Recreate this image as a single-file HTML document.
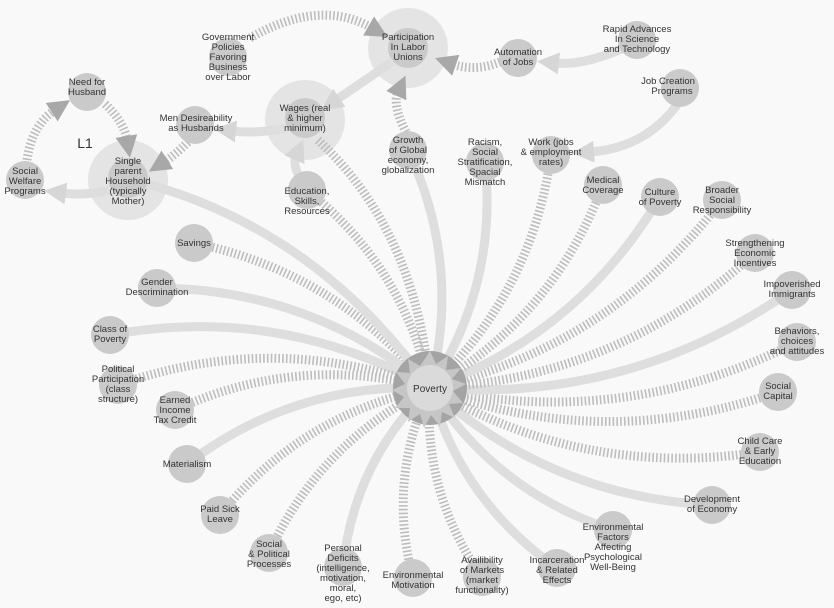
<!DOCTYPE html>
<html><head><meta charset="utf-8"><style>
html,body{margin:0;padding:0;background:#f9f9f9;}
svg{display:block;}
text{font-family:"Liberation Sans",sans-serif;font-size:9.5px;fill:#333;text-anchor:middle;}
.s{fill:none;stroke:#dedede;stroke-width:9;}
.d{fill:none;stroke:#bdbdbd;stroke-width:9;stroke-dasharray:1.6 2.2;}
.n{fill:#cacaca;}
.b{fill:#e4e4e4;}
</style></head><body>
<svg width="834" height="608" viewBox="0 0 834 608" xmlns="http://www.w3.org/2000/svg">
<defs>
<marker id="as" markerUnits="userSpaceOnUse" markerWidth="22" markerHeight="22" refX="4" refY="11" orient="auto"><path d="M0,0 L22,11 L0,22 z" fill="#d6d6d6"/></marker>
<marker id="ad" markerUnits="userSpaceOnUse" markerWidth="22" markerHeight="22" refX="4" refY="11" orient="auto"><path d="M0,0 L22,11 L0,22 z" fill="#a8a8a8"/></marker>
</defs>
<rect width="834" height="608" fill="#f9f9f9"/>
<circle cx="408" cy="48" r="40" class="b"/>
<circle cx="305" cy="120" r="40" class="b"/>
<circle cx="128" cy="180" r="40" class="b"/>

<path class="d" d="M194,243 Q338,273 430,388"/>
<path class="s" d="M157,288 Q312,289 430,388"/>
<path class="s" d="M110,335 Q280,304 430,388"/>
<path class="d" d="M118,385 Q274,330 430,388"/>
<path class="d" d="M175,410 Q298,353 430,388"/>
<path class="s" d="M187,464 Q295,382 430,388"/>
<path class="d" d="M220,515 Q302,414 430,388"/>
<path class="d" d="M269,553 Q320,442 430,388"/>
<path class="s" d="M343,567 Q354,462 430,388"/>
<path class="d" d="M413,578 Q387,480 430,388"/>
<path class="d" d="M482,577 Q422,492 430,388"/>
<path class="s" d="M557,568 Q461,501 430,388"/>
<path class="s" d="M613,530 Q496,492 430,388"/>
<path class="s" d="M712,505 Q550,497 430,388"/>
<path class="d" d="M760,452 Q583,479 430,388"/>
<path class="d" d="M778,392 Q603,453 430,388"/>
<path class="d" d="M797,342 Q622,431 430,388"/>
<path class="s" d="M792,290 Q629,404 430,388"/>
<path class="d" d="M755,253 Q617,379 430,388"/>
<path class="d" d="M722,200 Q610,347 430,388"/>
<path class="s" d="M660,197 Q579,334 430,388"/>
<path class="d" d="M603,185 Q553,318 430,388"/>
<path class="d" d="M551,155 Q532,293 430,388"/>
<path class="s" d="M485,162 Q498,285 430,388"/>
<path class="s" d="M408,150 Q462,265 430,388"/>
<path class="d" d="M307,190 Q404,267 430,388"/>
<path class="d" d="M318,140 Q416,231 430,388"/>
<path class="s" d="M140,182 Q317,229 430,388"/>

<path class="d" d="M250,38 Q320,-2 372,28" marker-end="url(#ad)"/>
<path class="d" d="M500,62 Q475,72 452,64" marker-end="url(#ad)"/>
<path class="s" d="M392,62 L336,100" marker-end="url(#as)"/>
<path class="d" d="M406,132 Q392,105 398,92" marker-end="url(#ad)"/>
<path class="s" d="M628,46 Q585,66 555,63" marker-end="url(#as)"/>
<path class="s" d="M677,105 Q645,148 590,152" marker-end="url(#as)"/>
<path class="s" d="M285,128 Q258,134 232,131" marker-end="url(#as)"/>
<path class="d" d="M188,142 Q175,155 164,162" marker-end="url(#ad)"/>
<path class="s" d="M110,190 Q85,196 62,193" marker-end="url(#as)"/>
<path class="d" d="M27,160 Q32,125 55,110" marker-end="url(#ad)"/>
<path class="d" d="M105,104 Q124,122 127,140" marker-end="url(#ad)"/>
<path class="s" d="M302,182 Q292,165 296,156" marker-end="url(#as)"/>

<g>
<circle class="n" cx="408" cy="48" r="20"/><circle class="n" cx="305" cy="118" r="20"/><circle class="n" cx="128" cy="178" r="20"/>
<circle class="n" cx="518" cy="58" r="19"/><circle class="n" cx="637" cy="40" r="19"/><circle class="n" cx="680" cy="88" r="19"/>
<circle class="n" cx="228" cy="57" r="19"/><circle class="n" cx="87" cy="92" r="19"/><circle class="n" cx="195" cy="125" r="19"/>
<circle class="n" cx="25" cy="180" r="19"/><circle class="n" cx="408" cy="150" r="19"/><circle class="n" cx="485" cy="162" r="19"/>
<circle class="n" cx="551" cy="155" r="19"/><circle class="n" cx="603" cy="185" r="19"/><circle class="n" cx="660" cy="197" r="19"/>
<circle class="n" cx="722" cy="200" r="19"/><circle class="n" cx="755" cy="253" r="19"/><circle class="n" cx="792" cy="290" r="19"/>
<circle class="n" cx="797" cy="342" r="19"/><circle class="n" cx="778" cy="392" r="19"/><circle class="n" cx="760" cy="452" r="19"/>
<circle class="n" cx="712" cy="505" r="19"/><circle class="n" cx="613" cy="530" r="19"/><circle class="n" cx="557" cy="568" r="19"/>
<circle class="n" cx="482" cy="577" r="19"/><circle class="n" cx="413" cy="578" r="19"/><circle class="n" cx="343" cy="567" r="19"/>
<circle class="n" cx="269" cy="553" r="19"/><circle class="n" cx="220" cy="515" r="19"/><circle class="n" cx="187" cy="464" r="19"/>
<circle class="n" cx="175" cy="410" r="19"/><circle class="n" cx="118" cy="385" r="19"/><circle class="n" cx="110" cy="335" r="19"/>
<circle class="n" cx="157" cy="288" r="19"/><circle class="n" cx="194" cy="243" r="19"/><circle class="n" cx="307" cy="190" r="19"/>
</g>

<circle cx="430" cy="388" r="37" fill="#a4a4a4"/>
<polygon fill="#c6c6c6" points="430,351 436,364 448,356 446,370 461,368 452,379 466,384 453,391 463,403 449,404 455,418 442,412 440,426 431,415 424,428 420,414 408,422 410,408 395,408 404,397 392,390 405,384 396,372 410,373 408,359 420,366"/>
<circle cx="430" cy="388" r="23" fill="#dadada"/>
<text x="430" y="392" style="font-size:10px">Poverty</text>

<text x="408" y="40">Participation</text><text x="408" y="50">In Labor</text><text x="408" y="60">Unions</text>
<text x="518" y="55">Automation</text><text x="518" y="65">of Jobs</text>
<text x="637" y="32">Rapid Advances</text><text x="637" y="42">In Science</text><text x="637" y="52">and Technology</text>
<text x="668" y="84">Job Creation</text><text x="672" y="94">Programs</text>
<text x="228" y="40">Government</text><text x="228" y="50">Policies</text><text x="228" y="60">Favoring</text><text x="228" y="70">Business</text><text x="228" y="80">over Labor</text>
<text x="87" y="85">Need for</text><text x="87" y="95">Husband</text>
<text x="196" y="121">Men Desireability</text><text x="196" y="131">as Husbands</text>
<text x="25" y="174">Social</text><text x="25" y="184">Welfare</text><text x="25" y="194">Programs</text>
<text x="85" y="148" style="font-size:14px">L1</text>
<text x="128" y="164">Single</text><text x="128" y="174">parent</text><text x="128" y="184">Household</text><text x="128" y="194">(typically</text><text x="128" y="204">Mother)</text>
<text x="305" y="111">Wages (real</text><text x="305" y="121">&amp; higher</text><text x="305" y="131">minimum)</text>
<text x="307" y="194">Education,</text><text x="307" y="204">Skills,</text><text x="307" y="214">Resources</text>
<text x="408" y="143">Growth</text><text x="408" y="153">of Global</text><text x="408" y="163">economy,</text><text x="408" y="173">globalization</text>
<text x="485" y="145">Racism,</text><text x="485" y="155">Social</text><text x="485" y="165">Stratification,</text><text x="485" y="175">Spacial</text><text x="485" y="185">Mismatch</text>
<text x="551" y="145">Work (jobs</text><text x="551" y="155">&amp; employment</text><text x="551" y="165">rates)</text>
<text x="603" y="183">Medical</text><text x="603" y="193">Coverage</text>
<text x="660" y="195">Culture</text><text x="660" y="205">of Poverty</text>
<text x="722" y="193">Broader</text><text x="722" y="203">Social</text><text x="722" y="213">Responsibility</text>
<text x="755" y="246">Strengthening</text><text x="755" y="256">Economic</text><text x="755" y="266">Incentives</text>
<text x="792" y="287">Impoverished</text><text x="792" y="297">Immigrants</text>
<text x="797" y="334">Behaviors,</text><text x="797" y="344">choices</text><text x="797" y="354">and attitudes</text>
<text x="778" y="389">Social</text><text x="778" y="399">Capital</text>
<text x="760" y="444">Child Care</text><text x="760" y="454">&amp; Early</text><text x="760" y="464">Education</text>
<text x="712" y="502">Development</text><text x="712" y="512">of Economy</text>
<text x="613" y="530">Environmental</text><text x="613" y="540">Factors</text><text x="613" y="550">Affecting</text><text x="613" y="560">Psychological</text><text x="613" y="570">Well-Being</text>
<text x="557" y="563">Incarceration</text><text x="557" y="573">&amp; Related</text><text x="557" y="583">Effects</text>
<text x="482" y="563">Availibility</text><text x="482" y="573">of Markets</text><text x="482" y="583">(market</text><text x="482" y="593">functionality)</text>
<text x="413" y="578">Environmental</text><text x="413" y="588">Motivation</text>
<text x="343" y="551">Personal</text><text x="343" y="561">Deficits</text><text x="343" y="571">(intelligence,</text><text x="343" y="581">motivation,</text><text x="343" y="591">moral,</text><text x="343" y="601">ego, etc)</text>
<text x="269" y="547">Social</text><text x="269" y="557">&amp; Political</text><text x="269" y="567">Processes</text>
<text x="220" y="512">Paid Sick</text><text x="220" y="522">Leave</text>
<text x="187" y="467">Materialism</text>
<text x="175" y="403">Earned</text><text x="175" y="413">Income</text><text x="175" y="423">Tax Credit</text>
<text x="118" y="372">Political</text><text x="118" y="382">Participation</text><text x="118" y="392">(class</text><text x="118" y="402">structure)</text>
<text x="110" y="332">Class of</text><text x="110" y="342">Poverty</text>
<text x="157" y="285">Gender</text><text x="157" y="295">Descrimination</text>
<text x="194" y="246">Savings</text>
</svg>
</body></html>
